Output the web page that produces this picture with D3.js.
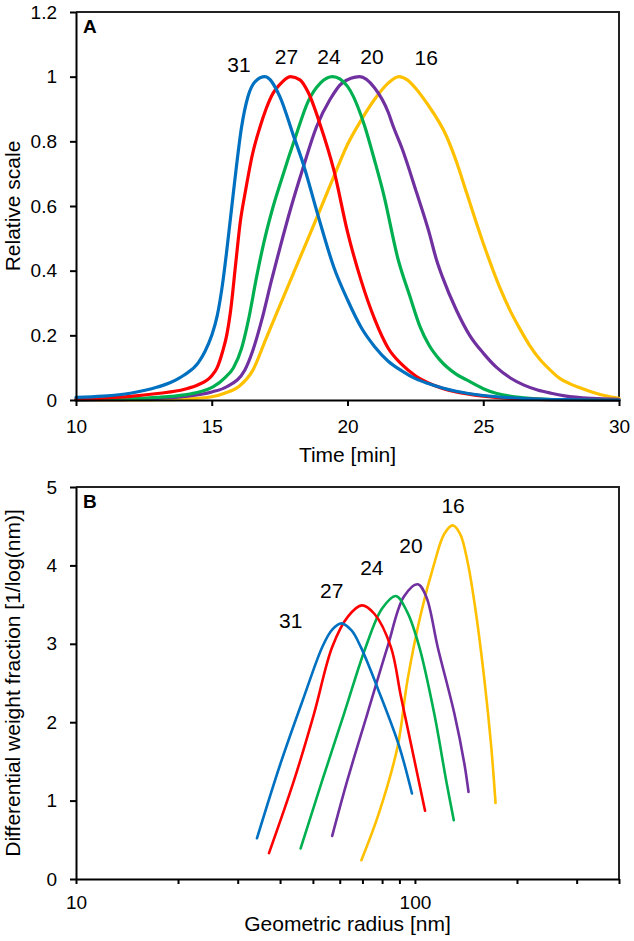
<!DOCTYPE html>
<html><head><meta charset="utf-8">
<script src="https://cdn.jsdelivr.net/npm/d3@7"></script>
<style>
body{margin:0;background:#fff}
svg text{font-family:"Liberation Sans",Arial,Helvetica,sans-serif;fill:#000}
</style>
</head><body>
<svg id="c" width="634" height="941"></svg>
<script>
// ---------- DATA ----------
const seriesNames = ["31", "27", "24", "20", "16"];
const seriesColors = ["#0070C0", "#FF0000", "#00B050", "#7030A0", "#FFC000"];

// Panel A: elution time [min] vs relative scale, [time, value]
const elution31 = [[10,.008],[11,.012],[12,.021],[13,.04],[13.5,.055],[14,.078],[14.5,.115],[14.75,.15],[15,.2],[15.2,.26],[15.4,.36],[15.55,.46],[15.7,.57],[15.85,.68],[16.1,.845],[16.34,.94],[16.6,.985],[16.96,1],[17.5,.94],[18,.82],[18.37,.73],[18.9,.575],[19.5,.41],[20,.31],[20.5,.225],[21,.165],[21.5,.12],[22,.09],[22.5,.066],[23,.05],[23.5,.037],[24,.027],[25,.014],[26,.007],[27,.003],[28,.001],[30,0]];
const elution27 = [[10,.003],[11,.006],[12,.011],[13,.02],[14,.033],[14.5,.047],[15,.075],[15.2,.1],[15.4,.15],[15.55,.2],[15.7,.28],[15.88,.42],[16.05,.55],[16.25,.65],[16.5,.76],[16.78,.845],[17,.9],[17.26,.949],[17.5,.975],[17.9,1],[18.25,.99],[18.56,.95],[19,.85],[19.5,.71],[20,.52],[20.5,.37],[21,.25],[21.5,.16],[22,.11],[22.5,.075],[23,.052],[23.5,.036],[24,.025],[25,.012],[26,.005],[27,.002],[28,.001],[30,0]];
const elution24 = [[10,.001],[11,.002],[12,.004],[13,.008],[14,.016],[14.5,.024],[15.06,.041],[15.5,.07],[15.8,.1],[16.1,.16],[16.35,.247],[16.65,.38],[16.9,.48],[17.2,.58],[17.6,.69],[18.07,.81],[18.56,.925],[19,.98],[19.45,1],[20,.97],[20.5,.88],[20.64,.845],[21,.74],[21.32,.64],[21.87,.433],[22.3,.32],[22.67,.227],[23,.17],[23.4,.124],[24,.08],[24.39,.062],[25,.035],[25.5,.02],[26.5,.007],[28,.001],[30,0]];
const elution20 = [[10,0],[11,.001],[12,.002],[13,.005],[14,.011],[15,.025],[15.55,.041],[16.22,.093],[16.5,.15],[16.84,.247],[17.2,.37],[17.51,.47],[17.9,.59],[18.37,.72],[18.86,.845],[19.36,.93],[19.8,.98],[20.45,1],[21,.965],[21.5,.89],[21.69,.845],[22,.78],[22.55,.64],[23,.52],[23.28,.433],[23.5,.38],[24,.28],[24.5,.2],[25,.145],[25.5,.1],[26,.068],[26.5,.046],[27,.031],[27.5,.021],[28,.013],[29,.005],[30,.002]];
const elution16 = [[10,0],[12,0],[13,.001],[14,.003],[15,.01],[15.5,.022],[16,.042],[16.5,.09],[17,.19],[17.5,.29],[18,.39],[18.5,.49],[19,.59],[19.54,.7],[20,.79],[20.5,.865],[21,.93],[21.5,.98],[21.9,1],[22.2,.99],[22.5,.965],[22.92,.918],[23.65,.815],[24,.74],[24.39,.64],[25,.485],[25.6,.35],[26,.275],[26.35,.22],[26.7,.17],[27.09,.125],[27.5,.09],[27.83,.066],[28.2,.05],[28.56,.038],[29,.025],[29.5,.013],[30,.005]];

// Panel B: geometric radius [nm] vs differential weight fraction [1/log(nm)]
const radius31 = [[34.2,.52],[40.1,1.47],[47.1,2.33],[53.3,2.96],[57,3.18],[60.7,3.26],[65,3.17],[69.2,2.96],[79.3,2.33],[89.9,1.69],[98,1.09]];
const radius27 = [[37.1,.33],[44,1.26],[50.4,2.11],[57,2.96],[63.5,3.35],[69.7,3.49],[76,3.38],[84.9,2.96],[90.9,2.33],[97.7,1.69],[107.1,.87]];
const radius24 = [[46,.39],[53.3,1.26],[61.8,2.11],[71.6,2.96],[80,3.45],[87.9,3.61],[95,3.4],[103,2.96],[114,2.11],[123.6,1.26],[130.2,.75]];
const radius20 = [[57,.55],[63.2,1.26],[72.4,2.11],[83,2.96],[92.7,3.6],[101.9,3.76],[108,3.6],[116.7,2.96],[130.7,2.11],[139.9,1.47],[143.9,1.11]];
const radius16 = [[69.5,.24],[78.3,.84],[88.9,1.69],[95.1,2.54],[104.2,3.39],[114.1,4.03],[122,4.4],[129.3,4.51],[136,4.4],[143.2,4.03],[151.4,3.39],[160.3,2.54],[167.9,1.69],[172.9,.97]];

// Axis ticks / labels
const xTicksA = [10, 15, 20, 25, 30];
const yTicksA = [0, 0.2, 0.4, 0.6, 0.8, 1, 1.2];
const yTickLabelsA = ["0", "0.2", "0.4", "0.6", "0.8", "1", "1.2"];
const xTicksB = [10,20,30,40,50,60,70,80,90,100,200,300,400];
const xTickLabelsB = {10: "10", 100: "100"};
const yTicksB = [0, 1, 2, 3, 4, 5];
const titlesA = {x: "Time [min]", y: "Relative scale", panel: "A"};
const titlesB = {x: "Geometric radius [nm]", y: "Differential weight fraction [1/log(nm)]", panel: "B"};

// ---------- LAYOUT ----------
const seriesA = [elution31, elution27, elution24, elution20, elution16];
const seriesB = [radius31, radius27, radius24, radius20, radius16];
// curve label anchors, in data units [x, y]
const labelPosA = [[16.0, 1.015], [17.75, 1.04], [19.32, 1.04], [20.9, 1.04], [22.9, 1.035]];
const labelPosB = [[43.0, 3.20], [56.8, 3.58], [74.6, 3.88], [97.3, 4.16], [129.6, 4.67]];

const svg = d3.select("#c");
const L = 76, R = 619;
const font = '"Liberation Sans", Arial, sans-serif';

function styleAxis(g, size) {
  g.attr("font-family", font).attr("font-size", size);
  g.select(".domain").attr("stroke", "#000").attr("stroke-width", 2);
  g.selectAll(".tick line").attr("stroke", "#000").attr("stroke-width", 2);
  g.selectAll(".tick text").attr("fill", "#000");
}

function drawPanel(cfg) {
  const {x, y, top, bottom, series, labelPos, titles, xAxis, yAxis, lw, curve} = cfg;
  svg.append("path")
    .attr("d", `M${L},${top}H${R}V${bottom}`)
    .attr("fill", "none").attr("stroke", "#222").attr("stroke-width", 2);
  const line = d3.line().x(d => x(d[0])).y(d => y(d[1])).curve(curve);
  [4, 3, 2, 1, 0].forEach(i => {
    svg.append("path").datum(series[i])
      .attr("d", line)
      .attr("fill", "none")
      .attr("stroke", seriesColors[i])
      .attr("stroke-width", lw)
      .attr("stroke-linejoin", "round")
      .attr("stroke-linecap", "round");
  });
  const gx = svg.append("g").attr("transform", `translate(0,${bottom})`).call(xAxis);
  styleAxis(gx, 19);
  const gy = svg.append("g").attr("transform", `translate(${L},0)`).call(yAxis);
  styleAxis(gy, 19);
  seriesNames.forEach((n, i) => {
    svg.append("text")
      .attr("x", x(labelPos[i][0])).attr("y", y(labelPos[i][1]))
      .attr("text-anchor", "middle").attr("font-size", 21)
      .text(n);
  });
  svg.append("text").attr("x", L + 7).attr("y", top + 21)
    .attr("font-size", 19).attr("font-weight", "bold").text(titles.panel);
  svg.append("text").attr("x", (L + R) / 2).attr("y", cfg.xTitleY)
    .attr("text-anchor", "middle").attr("font-size", 21).text(titles.x);
  svg.append("text")
    .attr("transform", `translate(${cfg.yTitleX},${(top + bottom) / 2}) rotate(-90)`)
    .attr("text-anchor", "middle").attr("font-size", 21).text(titles.y);
}

// Panel A
const xA = d3.scaleLinear().domain([10, 30]).range([L, R]);
const yA = d3.scaleLinear().domain([0, 1.2]).range([400, 12]);
drawPanel({
  x: xA, y: yA, top: 12, bottom: 400, series: seriesA, labelPos: labelPosA, titles: titlesA, lw: 3.2,
  curve: d3.curveMonotoneX,
  xAxis: d3.axisBottom(xA).tickValues(xTicksA).tickSize(6).tickPadding(14).tickSizeOuter(0).tickFormat(d => String(d)),
  yAxis: d3.axisLeft(yA).tickValues(yTicksA).tickSize(6).tickPadding(13).tickSizeOuter(0).tickFormat((d, i) => yTickLabelsA[i]),
  xTitleY: 462, yTitleX: 20
});

// Panel B
const xB = d3.scaleLog().domain([10, 400]).range([L, R]);
const yB = d3.scaleLinear().domain([0, 5]).range([879, 487]);
drawPanel({
  x: xB, y: yB, top: 487, bottom: 879, series: seriesB, labelPos: labelPosB, titles: titlesB, lw: 2.6,
  curve: d3.curveCatmullRom.alpha(0.5),
  xAxis: d3.axisBottom(xB).tickValues(xTicksB).tickSize(5).tickPadding(12).tickSizeOuter(0).tickFormat(d => xTickLabelsB[d] || ""),
  yAxis: d3.axisLeft(yB).tickValues(yTicksB).tickSize(6).tickPadding(13).tickSizeOuter(0).tickFormat(d => String(d)),
  xTitleY: 931, yTitleX: 20
});
</script>
</body></html>
